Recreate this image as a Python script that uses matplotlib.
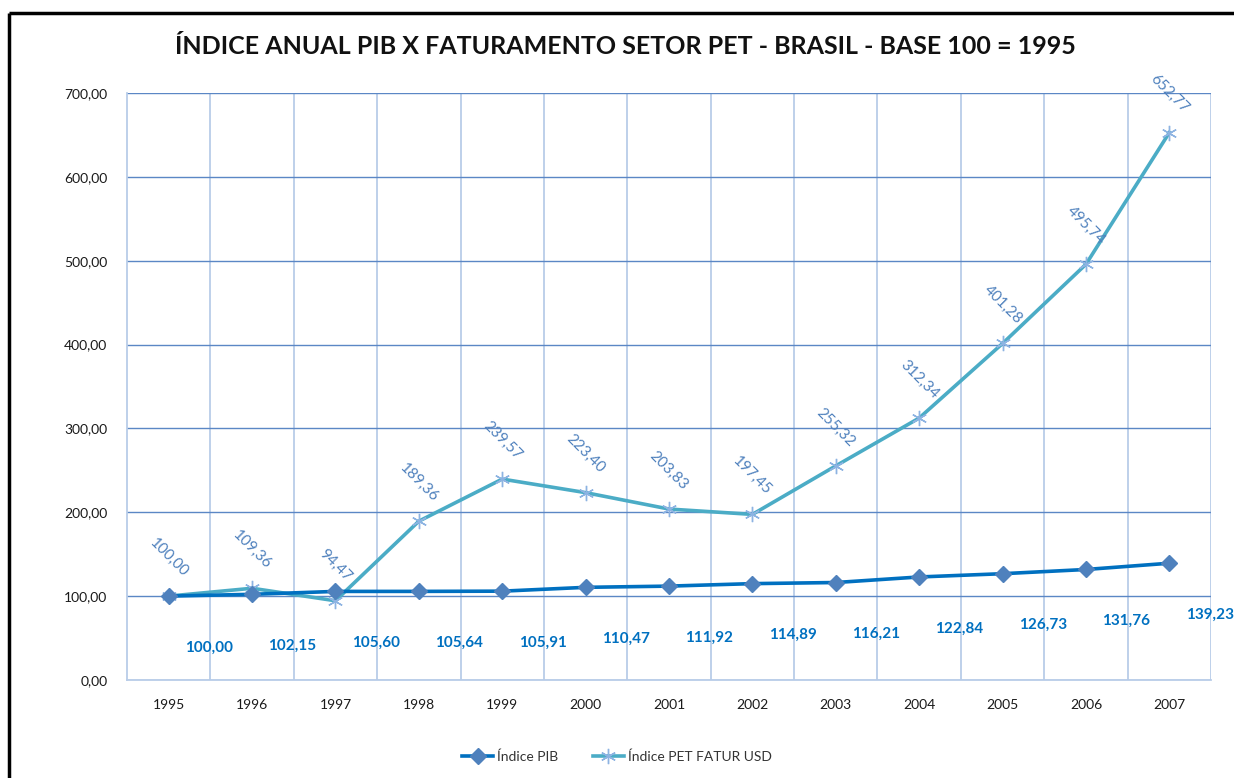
import matplotlib
matplotlib.use("Agg")
import matplotlib.pyplot as plt
from matplotlib.lines import Line2D
from matplotlib.ticker import FuncFormatter

years = ['1995', '1996', '1997', '1998', '1999', '2000', '2001',
         '2002', '2003', '2004', '2005', '2006', '2007']
pib = [100.00, 102.15, 105.60, 105.64, 105.91, 110.47, 111.92,
       114.89, 116.21, 122.84, 126.73, 131.76, 139.23]
pet = [100.00, 109.36, 94.47, 189.36, 239.57, 223.40, 203.83,
       197.45, 255.32, 312.34, 401.28, 495.74, 652.77]
title = 'ÍNDICE ANUAL PIB X FATURAMENTO SETOR PET - BRASIL - BASE 100 = 1995'

plt.rcParams['font.family'] = ['Lato', 'DejaVu Sans']


def br(v, pos=None):
    return f'{v:.2f}'.replace('.', ',')


fig = plt.figure(figsize=(12.34, 7.78), dpi=100)
ax = fig.add_axes([0.1029, 0.1260, 0.8785, 0.7545])

x = list(range(len(years)))
ax.plot(x, pib, color='#0070C0', lw=2.6, marker='D', ms=8,
        mfc='#4F81BD', mec='#4F81BD', label='Índice PIB', zorder=4)
ax.plot(x, pet, color='#4BACC6', lw=2.6, marker=(6, 2, 0), ms=11,
        mec='#8DB3E2', mew=1.0, label='Índice PET FATUR USD', zorder=3)

for i, v in enumerate(pet):
    ax.annotate(br(v), (i, v), xytext=(0, 12), textcoords='offset points',
                ha='center', va='bottom', rotation=-45, fontsize=11,
                color='#4F81BD')
for i, v in enumerate(pib):
    ax.annotate(br(v), (i, v), xytext=(29, -37), textcoords='offset points',
                ha='center', va='center', fontsize=11, fontweight='bold',
                color='#0070C0')

ax.set_xlim(-0.5, len(years) - 0.5)
ax.set_ylim(0, 700)
ax.set_yticks(range(0, 701, 100))
ax.yaxis.set_major_formatter(FuncFormatter(br))
ax.set_xticks(x)
ax.set_xticklabels(years)
ax.set_xticks([i + 0.5 for i in x], minor=True)
ax.tick_params(which='both', length=0)
ax.tick_params(axis='x', pad=14, labelsize=10, colors='#1a1a1a')
ax.tick_params(axis='y', pad=14, labelsize=10, colors='#1a1a1a')
ax.grid(axis='y', color='#5B87C5', lw=1.0)
ax.grid(axis='x', which='minor', color='#B9CDE8', lw=1.3)
for s in ['top', 'right']:
    ax.spines[s].set_visible(False)
for s in ['left', 'bottom']:
    ax.spines[s].set_color('#B9CDE8')
    ax.spines[s].set_linewidth(1.3)

fig.text(0.507, 0.9396, title, ha='center', va='center', fontsize=18,
         fontweight='bold', color='#111111')

leg = fig.legend(loc='center', bbox_to_anchor=(0.5, 0.027), ncol=2,
                 frameon=False, fontsize=10, handlelength=2.2,
                 columnspacing=2.5, handletextpad=0.3)
for t in leg.get_texts():
    t.set_color('#333333')

# black frame visible on the left and top edges
fx, fy = 9 / 1234, 1 - 13 / 778
fig.add_artist(Line2D([fx, 1.01], [fy, fy], transform=fig.transFigure,
                      color='black', lw=2.5, solid_capstyle='butt'))
fig.add_artist(Line2D([fx, fx], [-0.01, fy], transform=fig.transFigure,
                      color='black', lw=2.5, solid_capstyle='butt'))

fig.savefig('out.png', dpi=100)
